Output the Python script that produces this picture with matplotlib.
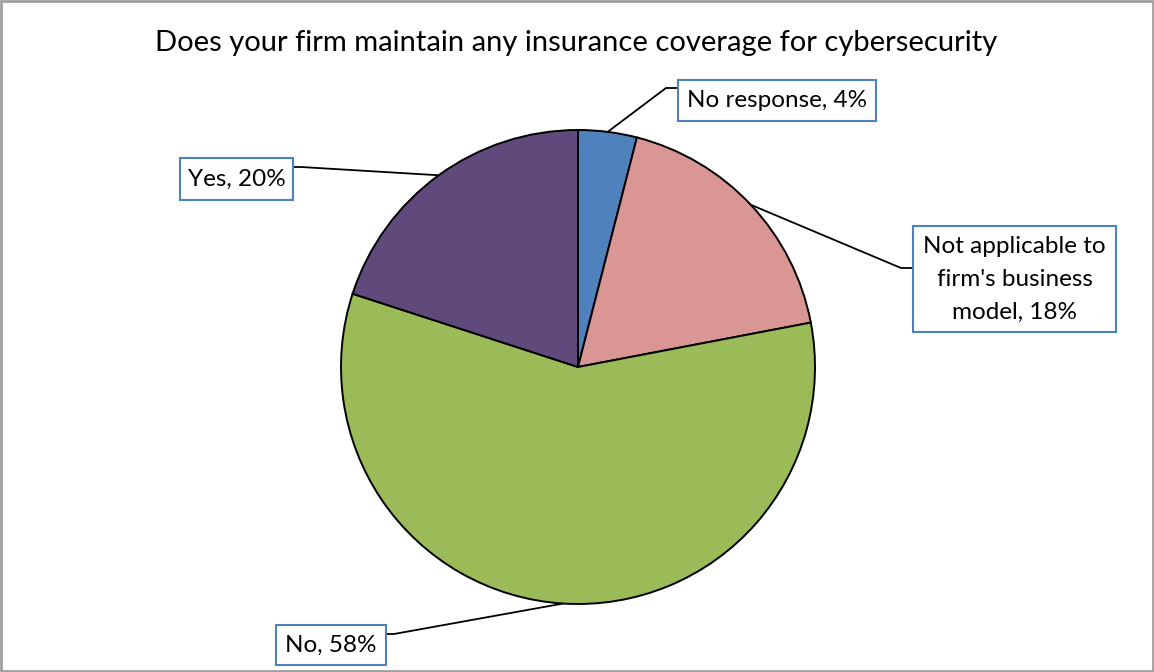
import numpy as np
import matplotlib.pyplot as plt
from matplotlib.patches import Rectangle

plt.rcParams['font.family'] = ['Lato', 'DejaVu Sans']

title = "Does your firm maintain any insurance coverage for cybersecurity"
labels = ["No response", "Not applicable to\nfirm's business\nmodel", "No", "Yes"]
values = [4, 18, 58, 20]
colors = ["#4f81bd", "#d99694", "#9bbb59", "#604a7b"]

W, H = 1154, 672
fig = plt.figure(figsize=(W / 100, H / 100), dpi=100)
ax = fig.add_axes([0, 0, 1, 1])
ax.set_xlim(0, W)
ax.set_ylim(0, H)
ax.axis('off')

# pie in pixel space
cx, cy, r = 578, H - 367, 237
wedges, _ = ax.pie(values, center=(cx, cy), radius=r, startangle=90,
                   counterclock=False, colors=colors,
                   wedgeprops=dict(edgecolor='black', linewidth=1.4))
ax.set_xlim(0, W)
ax.set_ylim(0, H)
ax.set_aspect('equal')

# label boxes: left, top, width, height (pixels from top-left), leader y, side
boxes = [
    (678, 80, 198, 41, 88, 'left'),
    (913, 226, 203, 106, 268, 'left'),
    (276, 625, 110, 40, 634, 'right'),
    (180, 158, 113, 42, 167, 'right'),
]

for w, lab, val, (bx, by, bw, bh, ly, side) in zip(wedges, labels, values, boxes):
    mid = np.deg2rad((w.theta1 + w.theta2) / 2)
    px, py = cx + r * np.cos(mid), cy + r * np.sin(mid)
    ax.add_patch(Rectangle((bx, H - by - bh), bw, bh, facecolor='white',
                           edgecolor='#4f81bd', linewidth=1.5, zorder=3))
    ax.text(bx + bw / 2, H - by - bh / 2, f"{lab}, {val}%", ha='center',
            va='center', fontsize=17.5, linespacing=1.7, color='black', zorder=4)
    ex = bx if side == 'left' else bx + bw
    elbow = ex - 12 if side == 'left' else ex + 8
    ax.plot([px, elbow, ex], [py, H - ly, H - ly], color='black', lw=1.3,
            zorder=2, solid_capstyle='butt')

fig.text(576 / W, 1 - 43 / H, title, ha='center', va='center', fontsize=21)

ax.add_patch(Rectangle((1, 1), W - 2, H - 2, fill=False, edgecolor='#a0a0a0',
                       linewidth=2, zorder=5))

fig.savefig('out.png', dpi=100)
